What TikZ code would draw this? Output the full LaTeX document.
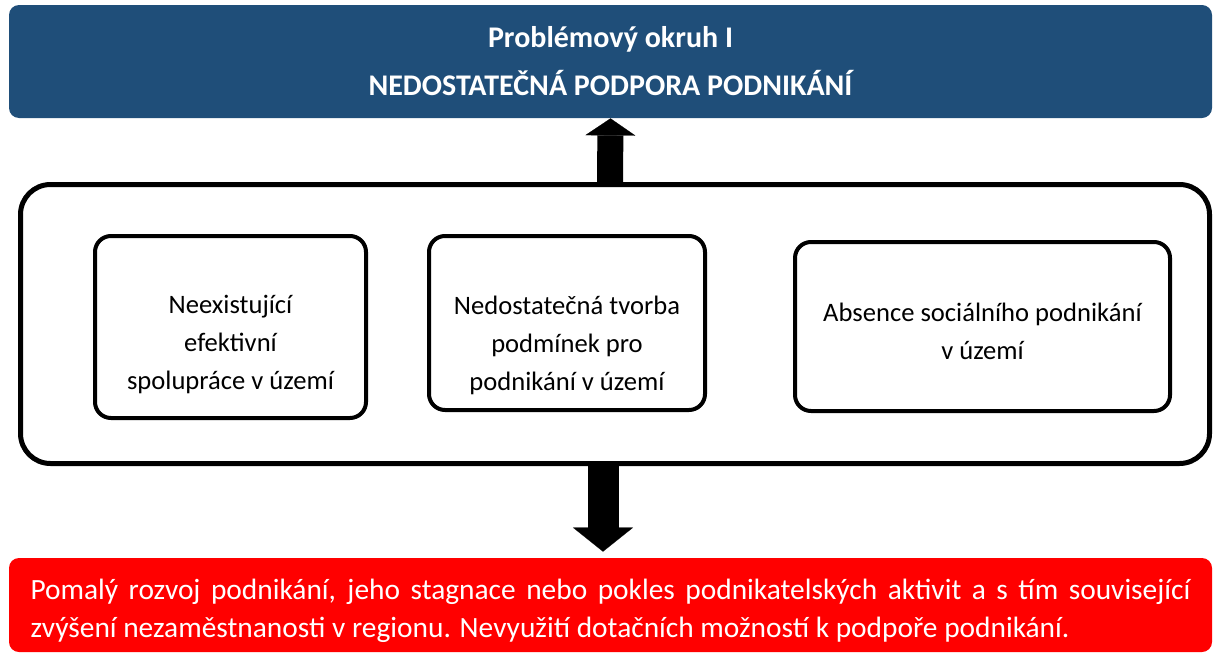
\documentclass[tikz,border=0pt]{standalone}
\usepackage{fontspec}
\setmainfont{Carlito}
\usetikzlibrary{arrows.meta}
\definecolor{barblue}{RGB}{31,78,121}
\definecolor{barred}{RGB}{255,0,0}

\begin{document}
\begin{tikzpicture}[x=0.5pt,y=-0.5pt]
  \tikzstyle{bar}=[rounded corners=5pt, inner sep=0pt, text=white]
  \tikzstyle{frame}=[draw, line width=2.5pt, rounded corners=15pt]
  \tikzstyle{inbox}=[draw, line width=2pt, rounded corners=8pt]
  \tikzstyle{intext}=[font=\fontsize{13.3}{19}\selectfont, align=center, inner sep=0pt]
  \tikzstyle{blockup}=[line width=13pt, -{Triangle[width=25pt,length=8.5pt,line width=0.1pt]}]
  \tikzstyle{blockdown}=[line width=15.5pt, -{Triangle[width=30pt,length=12pt,line width=0.1pt]}]

  \useasboundingbox (0,0) rectangle (1214,653);

  % header
  \node[bar, fill=barblue, minimum width=601.5pt, minimum height=56.5pt,
    font=\bfseries\fontsize{15}{24}\selectfont, align=center] (top) at (610.5,61.5)
    {Problémový okruh I\\NEDOSTATEČNÁ PODPORA PODNIKÁNÍ};

  % causes
  \node[frame, minimum width=594.5pt, minimum height=139.5pt] (frame) at (615,324) {};
  \node[inbox, minimum width=135.5pt, minimum height=91pt] (b1) at (230.5,327) {};
  \node[inbox, minimum width=138pt, minimum height=87pt] (b2) at (567,323) {};
  \node[inbox, minimum width=187.5pt, minimum height=84.5pt] (b3) at (982.5,326.5) {};
  \node[intext] (t1) at (230.5,344) {Neexistující\\efektivní\\spolupráce v území};
  \node[intext] (t2) at (567,345) {Nedostatečná tvorba\\podmínek pro\\podnikání v území};
  \node[intext] (t3) at (982.5,331) {Absence sociálního podnikání\\v území};

  % result
  \node[bar, fill=barred, minimum width=601.5pt, minimum height=47pt, inner xsep=10.75pt,
    text width=580pt, align=justify, font=\fontsize{14.7}{19}\selectfont] (res) at (610.5,605)
    {\par\vspace*{-3pt}Pomalý rozvoj podnikání, jeho stagnace nebo pokles podnikatelských aktivit a s~tím související\linebreak
     zvýšení nezaměstnanosti v regionu. Nevyužití dotačních možností k podpoře podnikání.};

  \draw[blockup] ([xshift=-2.5pt]frame.north) -- (top.south);
  \draw[blockdown, shorten >=3pt] ([xshift=-6pt]frame.south) -- ([xshift=-3.75pt]res.north);
\end{tikzpicture}
\end{document}
